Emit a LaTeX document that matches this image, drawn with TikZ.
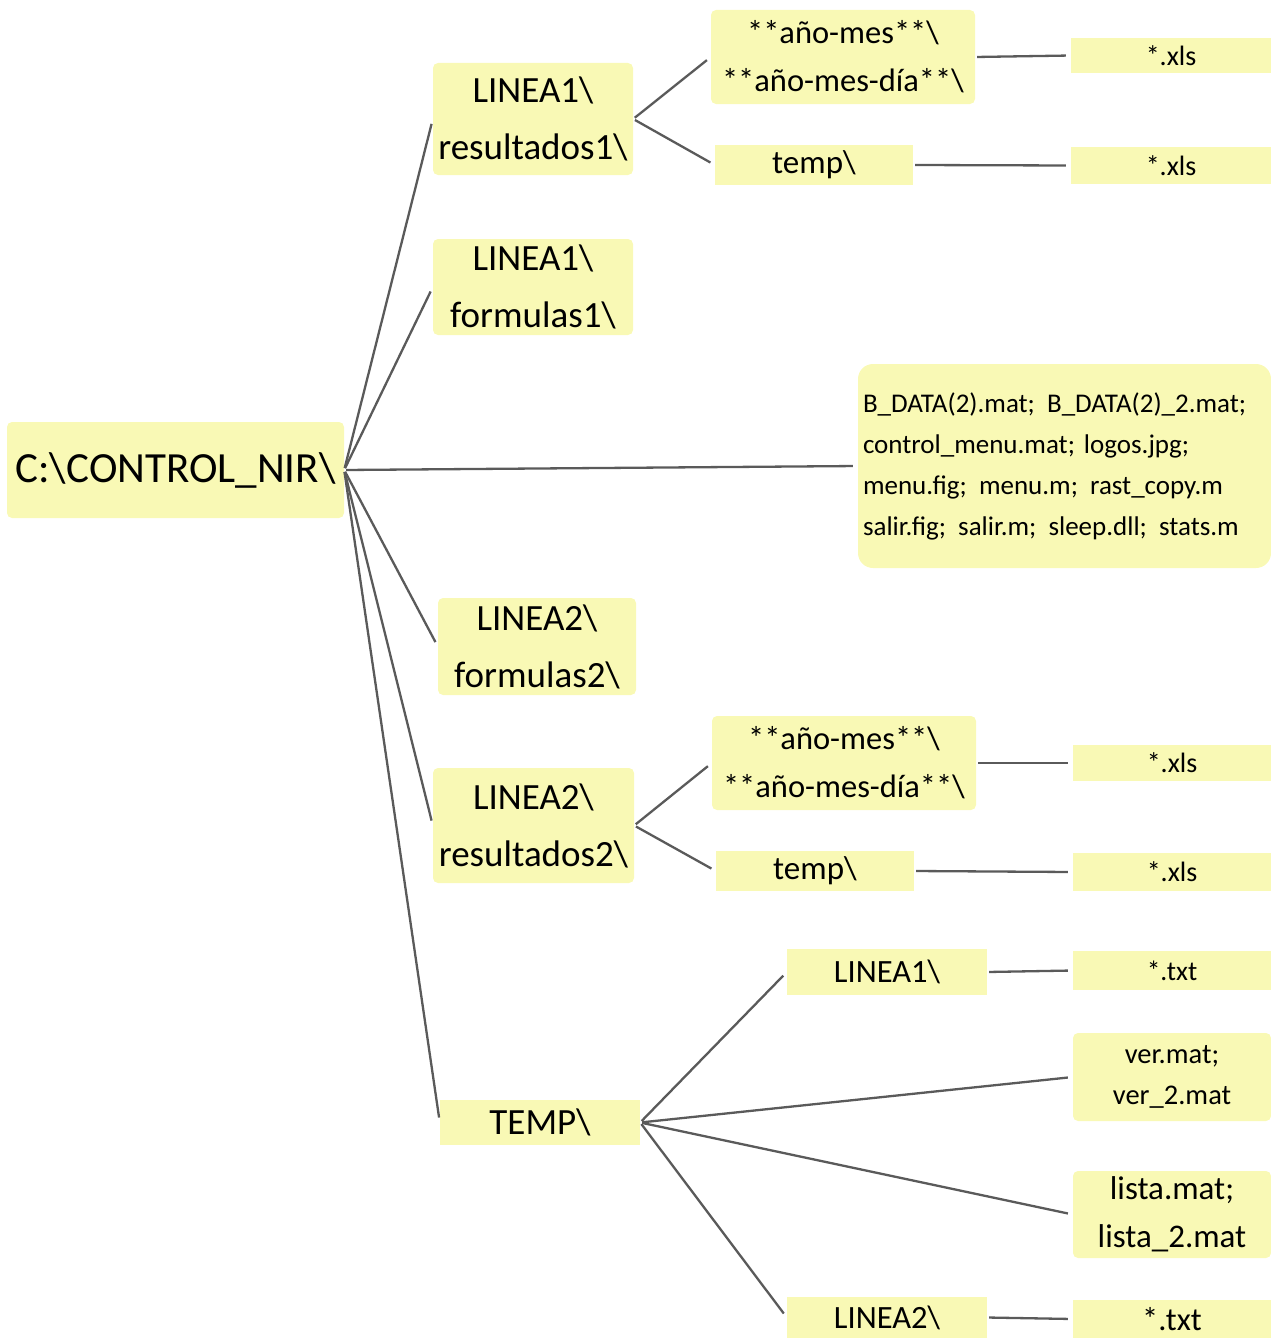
\documentclass[tikz,border=0pt]{standalone}
\usepackage{fontspec}
\setmainfont{Carlito}
\definecolor{boxfill}{RGB}{249,249,181}
\definecolor{linkgray}{RGB}{90,90,90}
\newcommand{\fs}[2]{\fontsize{#1}{#2}\selectfont}
\newcommand{\gap}{\hspace{0.45em}}
\begin{document}
\begin{tikzpicture}[x=1pt,y=-1pt,
  box/.style={fill=boxfill,draw=none,inner sep=0pt,align=center,rounded corners=5pt},
  sqbox/.style={fill=boxfill,draw=none,inner sep=0pt,align=center},
  link/.style={draw=linkgray,line width=2.3pt,shorten >=5pt,shorten <=2pt}]
\useasboundingbox (0,0) rectangle (1271,1338);
% level 0
\node[box,minimum width=337pt,minimum height=96pt,font=\fs{43}{50}] (root) at (175.5,470) {C:\textbackslash CONTROL\_NIR\textbackslash};
% level 1
\node[box,minimum width=200pt,minimum height=112pt,font=\fs{37}{57}] (r1) at (533,119) {LINEA1\textbackslash\\resultados1\textbackslash};
\node[box,minimum width=200pt,minimum height=96pt,font=\fs{37}{57}] (f1) at (533,287) {LINEA1\textbackslash\\formulas1\textbackslash};
\node[box,rounded corners=15pt,minimum width=413pt,minimum height=204pt,text width=403pt,align=left,font=\fs{27}{41}] (bdata) at (1064.5,466) {B\_DATA(2).mat;\gap B\_DATA(2)\_2.mat;\\control\_menu.mat; logos.jpg;\\menu.fig;\gap menu.m;\gap rast\_copy.m\\salir.fig;\gap salir.m;\gap sleep.dll;\gap stats.m};
\node[box,minimum width=198pt,minimum height=97pt,font=\fs{37}{57}] (f2) at (537,646.5) {LINEA2\textbackslash\\formulas2\textbackslash};
\node[box,minimum width=201pt,minimum height=115pt,font=\fs{37}{57}] (r2) at (533.5,825.5) {LINEA2\textbackslash\\resultados2\textbackslash};
\node[sqbox,minimum width=200pt,minimum height=45pt,font=\fs{37}{42}] (tmp) at (540,1122.5) {TEMP\textbackslash};
% level 2 under r1
\node[box,minimum width=264pt,minimum height=94pt,font=\fs{32.5}{48}] (am1) at (843,57) {**año-mes**\textbackslash\\**año-mes-día**\textbackslash};
\node[sqbox,minimum width=198pt,minimum height=40pt,font=\fs{33}{38}] (t1) at (814,165) {temp\textbackslash};
\node[sqbox,minimum width=200pt,minimum height=35pt,font=\fs{28}{32}] (x1) at (1171,55.5) {*.xls};
\node[sqbox,minimum width=200pt,minimum height=37pt,font=\fs{28}{32}] (x2) at (1171,165.5) {*.xls};
% level 2 under r2
\node[box,minimum width=264pt,minimum height=94pt,font=\fs{32.5}{48}] (am2) at (844,763) {**año-mes**\textbackslash\\**año-mes-día**\textbackslash};
\node[sqbox,minimum width=198pt,minimum height=40pt,font=\fs{33}{38}] (t2) at (815,871) {temp\textbackslash};
\node[sqbox,minimum width=198pt,minimum height=36pt,font=\fs{28}{32}] (x3) at (1172,763) {*.xls};
\node[sqbox,minimum width=198pt,minimum height=38pt,font=\fs{28}{32}] (x4) at (1172,872) {*.xls};
% level 2 under TEMP
\node[sqbox,minimum width=200pt,minimum height=46pt,font=\fs{32.5}{38}] (l1) at (887,972) {LINEA1\textbackslash};
\node[sqbox,minimum width=198pt,minimum height=39pt,font=\fs{27.5}{32}] (tx1) at (1172,970.5) {*.txt};
\node[box,minimum width=198pt,minimum height=88pt,font=\fs{28.5}{41}] (ver) at (1172,1077) {ver.mat;\\ver\_2.mat};
\node[box,minimum width=198pt,minimum height=87pt,font=\fs{33}{48}] (lista) at (1172,1214.5) {lista.mat;\\lista\_2.mat};
\node[sqbox,minimum width=200pt,minimum height=41pt,font=\fs{32.5}{38}] (l2) at (887,1317.5) {LINEA2\textbackslash};
\node[sqbox,minimum width=198pt,minimum height=38pt,font=\fs{32.5}{38}] (tx2) at (1172,1319) {*.txt};
% connectors
\draw[link] (root.east) -- (r1.west);
\draw[link] (root.east) -- (f1.west);
\draw[link] (root.east) -- (bdata.west);
\draw[link] (root.east) -- (f2.west);
\draw[link] (root.east) -- (r2.west);
\draw[link] (root.east) -- (tmp.west);
\draw[link] (r1.east) -- (am1.west);
\draw[link] (r1.east) -- (t1.west);
\draw[link] (am1.east) -- (x1.west);
\draw[link] (t1.east) -- (x2.west);
\draw[link] (r2.east) -- (am2.west);
\draw[link] (r2.east) -- (t2.west);
\draw[link] (am2.east) -- (x3.west);
\draw[link] (t2.east) -- (x4.west);
\draw[link] (tmp.east) -- (l1.west);
\draw[link] (tmp.east) -- (ver.west);
\draw[link] (tmp.east) -- (lista.west);
\draw[link] (tmp.east) -- (l2.west);
\draw[link] (l1.east) -- (tx1.west);
\draw[link] (l2.east) -- (tx2.west);
\end{tikzpicture}
\end{document}
